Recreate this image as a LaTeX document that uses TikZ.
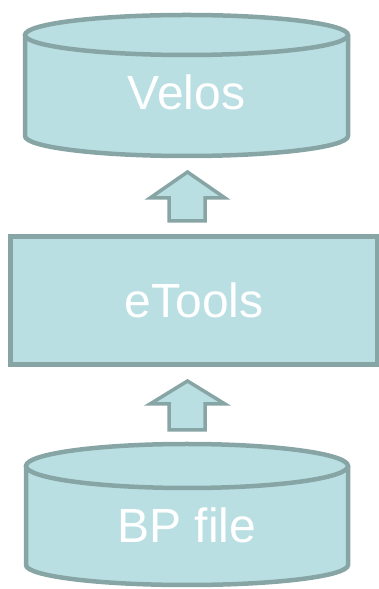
\documentclass[tikz,border=0pt]{standalone}
\usepackage{fontspec}
\setmainfont{Liberation Sans}
\definecolor{dbfill}{HTML}{B9DFE3}
\definecolor{dbline}{HTML}{88A5A6}
\begin{document}
\begin{tikzpicture}[x=1pt,y=1pt]
\tikzstyle{part}=[fill=dbfill,draw=dbline,line width=4.5pt]
\tikzstyle{uparrow}=[fill=dbfill,draw=dbline,line width=3.5pt,line join=miter]
\tikzstyle{label}=[text=white,font=\fontsize{48}{52}\selectfont,inner sep=0pt]
\useasboundingbox (0,0) rectangle (379,589);
% Velos
\draw [part] (25,554) -- (25,453) arc (180:360:161.5pt and 20pt) -- (348,554);
\draw [part] (186.5,554) ellipse (161.5pt and 20pt);
\node [label,anchor=base] (velos) at (186.5,479) {Velos};
% eTools
\node [part,label,minimum width=367pt,minimum height=128pt] (etools) at (194,288.5) {eTools};
% BP file
\draw [part] (26,123) -- (26,24) arc (180:360:161pt and 20pt) -- (348,123);
\draw [part] (187,123) ellipse (161pt and 22pt);
\node [label,anchor=base] (bpfile) at (187,46) {BP file};
% arrows
\draw [uparrow] (169,368) -- (169,391) -- (150,391) -- (187.5,417) -- (225,391) -- (205,391) -- (205,368) -- cycle;
\draw [uparrow] (169,159) -- (169,185) -- (150,185) -- (187.5,208) -- (225,185) -- (205,185) -- (205,159) -- cycle;
\end{tikzpicture}
\end{document}
